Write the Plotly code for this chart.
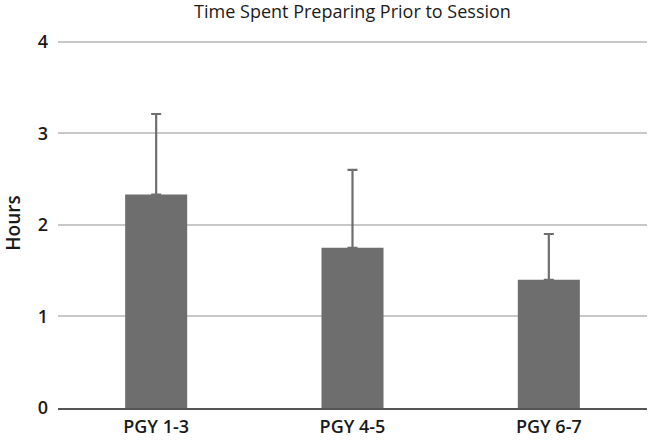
import plotly.graph_objects as go

categories = ["PGY 1-3", "PGY 4-5", "PGY 6-7"]
hours = [2.33, 1.75, 1.40]
sd_plus = [0.88, 0.85, 0.50]
y_ticks = [0, 1, 2, 3, 4]

fig = go.Figure()
fig.add_trace(go.Bar(
    x=categories, y=hours,
    marker=dict(color="#6e6e6e", line=dict(width=0)),
    error_y=dict(type="data", array=sd_plus, symmetric=False, arrayminus=[0, 0, 0],
                 color="#6e6e6e", thickness=2.2, width=5),
))

fig.update_layout(
    width=650, height=440,
    margin=dict(l=58, r=3, t=38, b=32),
    paper_bgcolor="white", plot_bgcolor="white",
    bargap=0.684,
    showlegend=False,
    font=dict(family="Open Sans", color="#1a1a1a"),
    title=dict(text="Time Spent Preparing Prior to Session", x=0.5, xref="paper",
               y=1 - 12 / 440, yref="container", yanchor="middle",
               font=dict(size=18, color="#1a1a1a")),
)
fig.update_yaxes(
    range=[0, 4.04], tickvals=y_ticks, showgrid=True, gridcolor="#c8c8c8", gridwidth=1.5,
    zeroline=False, showline=False, ticks="", ticklabelstandoff=9, automargin=False,
    tickfont=dict(size=18, color="#1a1a1a", weight=600),
    title=dict(text="Hours", font=dict(size=19, color="#1a1a1a", weight=600), standoff=14),
)
fig.update_xaxes(
    showline=True, linecolor="#555555", linewidth=2, showgrid=False, ticks="",
    ticklabelstandoff=1, automargin=False,
    tickfont=dict(size=18, color="#1a1a1a", weight=600),
)
fig.write_html("out.html", config={"displayModeBar": False},
               post_script="document.body.style.margin='0';")
